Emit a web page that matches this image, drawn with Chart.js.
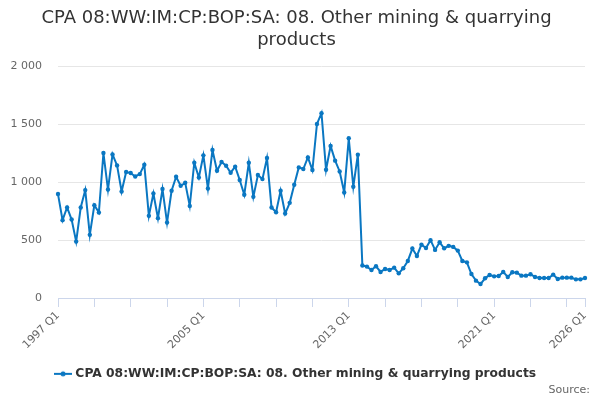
<!DOCTYPE html>
<html>
<head>
<meta charset="utf-8">
<script src="https://cdn.jsdelivr.net/npm/chart.js@4"></script>
<style>
  html, body { margin: 0; padding: 0; background: #fff; }
  #wrap { width: 600px; height: 400px; }
</style>
</head>
<body>
<div id="wrap"><canvas id="chart"></canvas></div>
<script>
// quarterly imports, 1997 Q1 .. 2026 Q1
var firstYear = 1997;
var lastYear = 2026;
var labelEvery = 32;   // quarters between x labels
var tickEvery = 8;     // quarters between x tick marks

var values = [
    897, 672, 781, 677, 487, 781, 931, 545, 801, 738,
    1251, 936, 1239, 1144, 919, 1087, 1078, 1049, 1069, 1150,
    709, 902, 689, 940, 651, 925, 1046, 968, 994, 795,
    1167, 1040, 1231, 945, 1277, 1098, 1173, 1141, 1081, 1133,
    1018, 891, 1167, 873, 1061, 1026, 1208, 781, 740, 925,
    729, 821, 977, 1127, 1113, 1213, 1104, 1502, 1595, 1107,
    1312, 1185, 1092, 911, 1378, 960, 1237, 280, 271, 242,
    274, 225, 251, 242, 262, 213, 257, 320, 427, 363,
    461, 432, 499, 415, 481, 429, 450, 441, 409, 320,
    308, 207, 150, 121, 170, 199, 187, 190, 225, 182,
    222, 219, 193, 193, 205, 182, 173, 173, 173, 202,
    164, 176, 176, 176, 161, 161, 173
];
var yTicks = [0, 500, 1000, 1500, 2000];

var seriesName = 'CPA 08:WW:IM:CP:BOP:SA: 08. Other mining & quarrying products';
var titleLines = ['CPA 08:WW:IM:CP:BOP:SA: 08. Other mining & quarrying', 'products'];
var sourceText = 'Source:';

var categories = [];
for (var y = firstYear; y <= lastYear; y++) {
    for (var q = 1; q <= 4; q++) {
        if (y == lastYear && q > 1) break;
        categories.push(y + ' Q' + q);
    }
}
var lastIdx = categories.length - 1;

var blue = '#0a77c2';
var font = 'DejaVu Sans';

// legend symbol: short line with a dot
var sym = document.createElement('canvas');
sym.width = 18; sym.height = 8;
var sc = sym.getContext('2d');
sc.strokeStyle = blue; sc.lineWidth = 2;
sc.beginPath(); sc.moveTo(0, 4); sc.lineTo(18, 4); sc.stroke();
sc.fillStyle = blue;
sc.beginPath(); sc.arc(9, 4, 2.5, 0, Math.PI * 2); sc.fill();

function spaced(v) {
    return String(v).replace(/\B(?=(\d{3})+(?!\d))/g, ' ');
}

// "Source:" credit in the bottom right corner
var sourcePlugin = {
    id: 'source',
    afterDraw: function (chart) {
        var c = chart.ctx;
        c.save();
        c.font = '11px "' + font + '"';
        c.fillStyle = '#666666';
        c.textAlign = 'right';
        c.textBaseline = 'middle';
        c.fillText(sourceText, chart.width - 10, 390);
        c.restore();
    }
};

var config = {
    type: 'line',
    data: {
        labels: categories,
        datasets: [{
            label: seriesName,
            data: values,
            borderColor: blue,
            backgroundColor: blue,
            borderWidth: 2,
            pointRadius: 2.2,
            pointBorderWidth: 0,
            pointHoverRadius: 3,
            pointStyle: 'circle',
            tension: 0
        }]
    },
    options: {
        responsive: true,
        maintainAspectRatio: false,
        animation: false,
        layout: { padding: { left: 8, right: 15, top: 0, bottom: 10 } },
        plugins: {
            title: {
                display: true,
                text: titleLines,
                color: '#333333',
                font: { family: font, size: 18, weight: 'normal' },
                padding: { top: 8, bottom: 15 }
            },
            legend: {
                position: 'bottom',
                labels: {
                    usePointStyle: true,
                    pointStyle: sym,
                    color: '#333333',
                    font: { family: font, size: 12.3, weight: 'bold' },
                    padding: 14
                }
            },
            tooltip: { enabled: false }
        },
        scales: {
            x: {
                offset: false,
                grid: {
                    drawOnChartArea: false,
                    drawTicks: true,
                    tickLength: 9,
                    color: function (ctx) {
                        var i = ctx.index;
                        return (i % tickEvery === 0 || i === lastIdx) ? '#ccd6eb' : 'rgba(0,0,0,0)';
                    }
                },
                border: { color: '#ccd6eb', width: 1 },
                ticks: {
                    autoSkip: false,
                    minRotation: 45,
                    maxRotation: 45,
                    padding: 2,
                    color: '#666666',
                    font: { family: font, size: 11 },
                    callback: function (v, i) {
                        return (i % labelEvery === 0 || i === lastIdx) ? categories[i] : '';
                    }
                }
            },
            y: {
                min: yTicks[0],
                max: yTicks[yTicks.length - 1],
                afterBuildTicks: function (s) {
                    s.ticks = yTicks.map(function (v) { return { value: v }; });
                },
                afterFit: function (s) { s.width = 50; },
                grid: { color: '#e6e6e6', drawTicks: false },
                border: { display: false },
                ticks: {
                    padding: 16,
                    color: '#666666',
                    font: { family: font, size: 11 },
                    callback: function (v) { return spaced(v); }
                }
            }
        }
    },
    plugins: [sourcePlugin]
};

new Chart(document.getElementById('chart').getContext('2d'), config);
</script>
</body>
</html>
